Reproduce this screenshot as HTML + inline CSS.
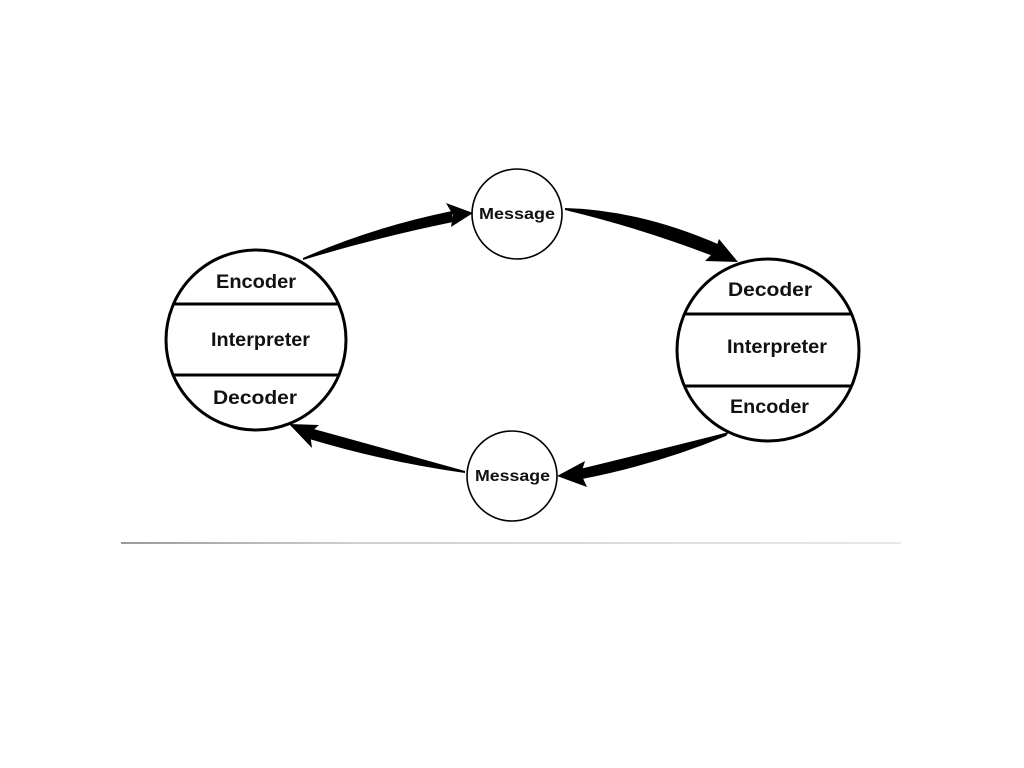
<!DOCTYPE html>
<html>
<head>
<meta charset="utf-8">
<style>
  html, body { margin: 0; padding: 0; background: #fff; }
  svg { display: block; }
  text { font-family: "Liberation Sans", "DejaVu Sans", sans-serif; font-weight: bold; fill: #111; }
</style>
</head>
<body>
<svg width="1024" height="768" viewBox="0 0 1024 768" xmlns="http://www.w3.org/2000/svg">
  <defs>
    <linearGradient id="hl" x1="0" y1="0" x2="1" y2="0">
      <stop offset="0" stop-color="#9a9a9a"/>
      <stop offset="0.3" stop-color="#cfcfcf"/>
      <stop offset="1" stop-color="#e8e8e8"/>
    </linearGradient>
  </defs>
  <rect width="1024" height="768" fill="#fff"/>

  <!-- horizontal rule -->
  <rect x="121" y="542" width="780" height="2" fill="url(#hl)"/>

  <!-- Left big circle -->
  <circle cx="256" cy="340" r="90" fill="#fff" stroke="#000" stroke-width="3"/>
  <line x1="173.5" y1="304" x2="338.5" y2="304" stroke="#000" stroke-width="3"/>
  <line x1="173" y1="375" x2="339" y2="375" stroke="#000" stroke-width="3"/>
  <text x="216" y="288" font-size="19" textLength="80" lengthAdjust="spacingAndGlyphs">Encoder</text>
  <text x="211" y="346" font-size="19" textLength="99" lengthAdjust="spacingAndGlyphs">Interpreter</text>
  <text x="213" y="404" font-size="19" textLength="84" lengthAdjust="spacingAndGlyphs">Decoder</text>

  <!-- Right big circle -->
  <circle cx="768" cy="350" r="91" fill="#fff" stroke="#000" stroke-width="3"/>
  <line x1="684.5" y1="314" x2="851.5" y2="314" stroke="#000" stroke-width="3"/>
  <line x1="684.5" y1="386" x2="851.5" y2="386" stroke="#000" stroke-width="3"/>
  <text x="728" y="296" font-size="19" textLength="84" lengthAdjust="spacingAndGlyphs">Decoder</text>
  <text x="727" y="353" font-size="19" textLength="100" lengthAdjust="spacingAndGlyphs">Interpreter</text>
  <text x="730" y="413" font-size="19" textLength="79" lengthAdjust="spacingAndGlyphs">Encoder</text>

  <!-- Message circles -->
  <circle cx="517" cy="214" r="45" fill="#fff" stroke="#000" stroke-width="1.6"/>
  <text x="479" y="219" font-size="16" textLength="76" lengthAdjust="spacingAndGlyphs">Message</text>

  <circle cx="512" cy="476" r="45" fill="#fff" stroke="#000" stroke-width="1.6"/>
  <text x="475" y="481" font-size="16" textLength="75" lengthAdjust="spacingAndGlyphs">Message</text>

  <!-- Arrow 1: left circle -> top message -->
  <path d="M303,258 Q370,228 452,211 L453,222 Q375,238 303,260 Z" fill="#000"/>
  <path d="M473,213 L446,203 L453,215 L451,227 Z" fill="#000"/>

  <!-- Arrow 2: top message -> right circle -->
  <path d="M565,208 Q640,210 720,245 L713,256 Q640,228 565,210 Z" fill="#000"/>
  <path d="M738,262 L719,239 L715,251 L705,261 Z" fill="#000"/>

  <!-- Arrow 3: right circle -> bottom message -->
  <path d="M729,432 Q650,452 580,469 L582,479 Q655,465 726,436 Z" fill="#000"/>
  <path d="M557,476 L585,461 L581,474 L587,487 Z" fill="#000"/>

  <!-- Arrow 4: bottom message -> left circle -->
  <path d="M465,471 Q390,450 310,428 L306,438 Q385,462 465,473 Z" fill="#000"/>
  <path d="M289,424 L319,425 L310,433 L312,448 Z" fill="#000"/>
</svg>
</body>
</html>
